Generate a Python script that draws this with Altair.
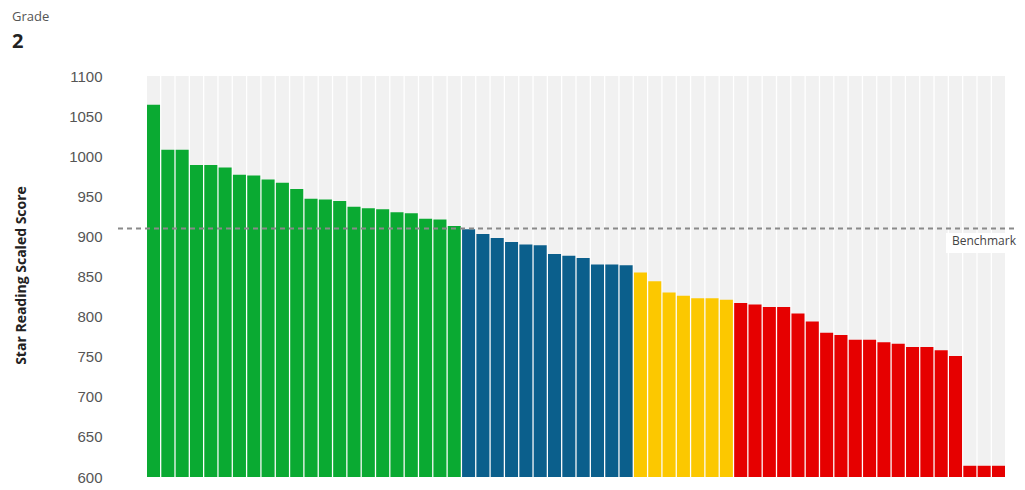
import altair as alt
import pandas as pd

# ---- data ----
scores = [1064, 1008, 1008, 989, 989, 986, 977, 976, 971, 967, 959, 947, 946, 944, 937,
          935, 934, 930, 929, 922, 921, 913,
          909, 903, 898, 893, 890, 889, 878, 876, 873, 865, 865, 864,
          855, 844, 830, 826, 823, 823, 821,
          817, 815, 812, 812, 804, 794, 780, 777, 771, 771, 768, 766, 762, 762, 758, 751,
          614, 614, 614]
levels = (["At/Above Benchmark"] * 22 + ["On Watch"] * 12 +
          ["Intervention"] * 7 + ["Urgent Intervention"] * 19)
students = [f"Student {i + 1:02d}" for i in range(len(scores))]
level_names = ["At/Above Benchmark", "On Watch", "Intervention", "Urgent Intervention"]
level_colors = ["#0aaa32", "#0b5f8c", "#fcc800", "#e60000"]
benchmark = 910
y_min, y_max = 600, 1100
y_ticks = [600, 650, 700, 750, 800, 850, 900, 950, 1000, 1050, 1100]
grade_label = "Grade"
grade_value = "2"

df = pd.DataFrame({"student": students, "score": scores, "level": levels})

W, H = 899, 401

x_enc = alt.X("student:N", sort=None, axis=None,
              scale=alt.Scale(range=[29, 887], paddingInner=0.09, paddingOuter=0))
y_scale = alt.Scale(domain=[y_min, y_max], zero=False, nice=False)

base = alt.Chart(df)

background = base.mark_bar(color="#f1f1f1").encode(
    x=x_enc,
    y=alt.Y("score:Q", scale=y_scale),
    y2=alt.datum(y_min),
).transform_calculate(score=str(y_max))

bars = base.mark_bar().encode(
    x=x_enc,
    y=alt.Y("score:Q", scale=y_scale,
            axis=alt.Axis(values=y_ticks, format="d", title="Star Reading Scaled Score",
                          domain=False, ticks=False, grid=False,
                          labelFont="Liberation Sans", labelFontSize=15,
                          labelColor="#555555", labelPadding=16,
                          titleFont="Open Sans", titleFontWeight="bold",
                          titleFontSize=14, titleColor="#222222",
                          titleAngle=-90, titleX=-97, titleY=199,
                          titleAlign="center", titleBaseline="middle")),
    y2=alt.datum(y_min),
    color=alt.Color("level:N", scale=alt.Scale(domain=level_names, range=level_colors),
                    legend=None),
)

bench_df = pd.DataFrame({"benchmark": [benchmark], "label": ["Benchmark"]})
rule = alt.Chart(bench_df).mark_rule(color="#8a8a8a", strokeWidth=2, strokeDash=[5, 4]).encode(
    y=alt.Y("benchmark:Q", scale=y_scale),
    x=alt.value(0),
    x2=alt.value(W),
)
label_box = alt.Chart(bench_df).mark_rect(color="white").encode(
    x=alt.value(828), x2=alt.value(W), y=alt.value(157), y2=alt.value(177)
)
label = alt.Chart(bench_df).mark_text(align="left", baseline="middle", font="Open Sans",
                                      fontSize=12, color="#444444").encode(
    x=alt.value(834),
    y=alt.Y("benchmark:Q", scale=y_scale),
    yOffset=alt.value(13),
    text="label:N",
)

t1 = alt.Chart(pd.DataFrame({"t": [grade_label]})).mark_text(
    align="left", baseline="middle", font="Open Sans", fontSize=13, color="#555555"
).encode(x=alt.value(-106), y=alt.value(-59), text="t:N")
t2 = alt.Chart(pd.DataFrame({"t": [grade_value]})).mark_text(
    align="left", baseline="middle", font="Open Sans", fontSize=20, fontWeight="bold",
    color="#222222"
).encode(x=alt.value(-106), y=alt.value(-34), text="t:N")

chart = alt.layer(background, bars, rule, label_box, label, t1, t2).properties(
    width=W, height=H,
    autosize=alt.AutoSizeParams(type="none"),
    padding={"left": 110, "top": 68, "right": 0, "bottom": 11},
).configure_view(stroke=None)

chart.save("out.html", embed_options={"renderer": "svg", "actions": False})
